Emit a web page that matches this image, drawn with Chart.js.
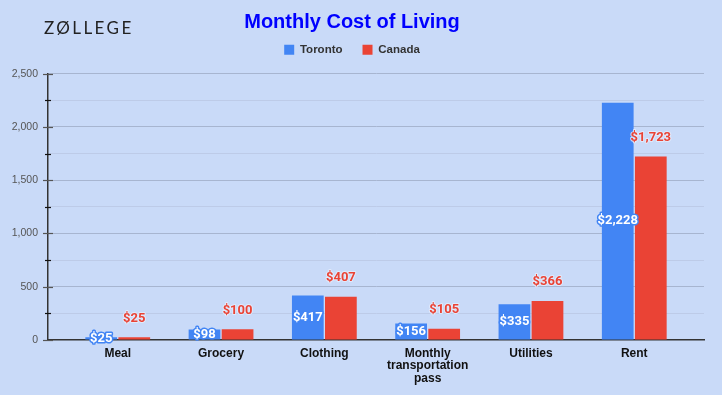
<!DOCTYPE html>
<html>
<head>
<meta charset="utf-8">
<script src="https://cdn.jsdelivr.net/npm/chart.js@4"></script>
<style>
  body { margin: 0; background: #c9daf8; }
  #wrap { position: relative; width: 722px; height: 395px; background: #c9daf8; }
  #logo { position: absolute; left: 44px; top: 17px; font: 400 17px Lato, sans-serif; letter-spacing: 2.4px; color: #222; }
</style>
</head>
<body>
<div id="wrap">
  <canvas id="costChart" width="722" height="395"></canvas>
  <div id="logo">ZØLLEGE</div>
</div>
<script>
var categories = ['Meal', 'Grocery', 'Clothing', ['Monthly', 'transportation', 'pass'], 'Utilities', 'Rent'];
var toronto = [25, 98, 417, 156, 335, 2228];
var canada = [25, 100, 407, 105, 366, 1723];
var yTicks = [0, 500, 1000, 1500, 2000, 2500];

var blue = '#4285f4';
var red = '#ea4335';

function money(v) {
  return '$' + v.toLocaleString('en-US');
}

// value labels, toronto inside the bar, canada above it
var barLabels = {
  id: 'barLabels',
  afterDatasetsDraw: function(chart) {
    var ctx = chart.ctx;
    ctx.save();
    ctx.font = 'bold 13px Roboto';
    ctx.textAlign = 'center';
    ctx.textBaseline = 'middle';
    ctx.lineJoin = 'round';
    chart.data.datasets.forEach(function(ds, i) {
      chart.getDatasetMeta(i).data.forEach(function(bar, j) {
        var txt = money(ds.data[j]);
        if (i === 0) {
          var y = (bar.y + bar.base) / 2;
          ctx.lineWidth = 3;
          ctx.strokeStyle = blue;
          ctx.strokeText(txt, bar.x, y);
          ctx.fillStyle = '#fff';
          ctx.fillText(txt, bar.x, y);
        } else {
          var y2 = bar.y - 19;
          ctx.lineWidth = 2;
          ctx.strokeStyle = 'rgba(230,238,252,0.8)';
          ctx.strokeText(txt, bar.x, y2);
          ctx.fillStyle = red;
          ctx.fillText(txt, bar.x, y2);
        }
      });
    });
    ctx.restore();
  }
};

// tick marks that cross the y axis line
var axisTicks = {
  id: 'axisTicks',
  afterDraw: function(chart) {
    var y = chart.scales.y;
    var x0 = chart.chartArea.left;
    var ctx = chart.ctx;
    ctx.save();
    ctx.lineWidth = 1.2;
    y.ticks.forEach(function(t) {
      var py = Math.round(y.getPixelForValue(t.value)) + 0.5;
      var major = yTicks.indexOf(t.value) >= 0;
      var len = major ? 5 : 3;
      ctx.strokeStyle = major ? '#555' : '#111';
      ctx.beginPath();
      ctx.moveTo(x0 - len, py);
      ctx.lineTo(x0 + len, py);
      ctx.stroke();
    });
    ctx.restore();
  }
};

new Chart(document.getElementById('costChart'), {
  type: 'bar',
  data: {
    labels: categories,
    datasets: [
      { label: 'Toronto', data: toronto, backgroundColor: blue, categoryPercentage: 0.64, barPercentage: 0.96 },
      { label: 'Canada', data: canada, backgroundColor: red, categoryPercentage: 0.64, barPercentage: 0.96 }
    ]
  },
  options: {
    responsive: false,
    animation: false,
    layout: { padding: { left: 0, right: 18, bottom: 0 } },
    plugins: {
      title: {
        display: true,
        text: 'Monthly Cost of Living',
        color: '#0000ff',
        font: { family: 'Liberation Sans', size: 20, weight: 'bold' },
        padding: { top: 10, bottom: -10 }
      },
      // empty spacer under the legend
      subtitle: {
        display: true,
        text: '',
        weight: 500,
        font: { size: 1 },
        padding: { top: 0, bottom: 7 }
      },
      legend: {
        labels: {
          boxWidth: 10,
          boxHeight: 10,
          color: '#333',
          padding: 20,
          font: { family: 'Liberation Sans', size: 11.5, weight: 'bold' }
        }
      },
      tooltip: { enabled: false }
    },
    scales: {
      x: {
        grid: { display: false, drawTicks: false },
        border: { display: true, color: '#333', width: 1.5 },
        ticks: {
          color: '#111',
          padding: 7,
          maxRotation: 0,
          font: { family: 'Liberation Sans', size: 12, weight: 'bold', lineHeight: 1.05 }
        },
        afterBuildTicks: function(s) {
          s._startValue -= 0.175;
          s._valueRange += 0.35;
        },
        afterFit: function(s) { s.height = 55; }
      },
      y: {
        min: 0,
        max: 2500,
        ticks: {
          stepSize: 250,
          color: '#555',
          padding: 10,
          font: { family: 'Liberation Sans', size: 10.5 },
          callback: function(v) {
            return yTicks.indexOf(v) >= 0 ? v.toLocaleString('en-US') : '';
          }
        },
        grid: {
          drawTicks: false,
          color: function(c) {
            if (c.tick.value === 0) return 'rgba(0,0,0,0)';
            return c.tick.value % 500 === 0 ? '#a7b5d0' : '#bdcbe8';
          }
        },
        border: { display: true, color: '#333', width: 1.5 },
        afterFit: function(s) { s.width = 48; }
      }
    }
  },
  plugins: [barLabels, axisTicks]
});
</script>
</body>
</html>
